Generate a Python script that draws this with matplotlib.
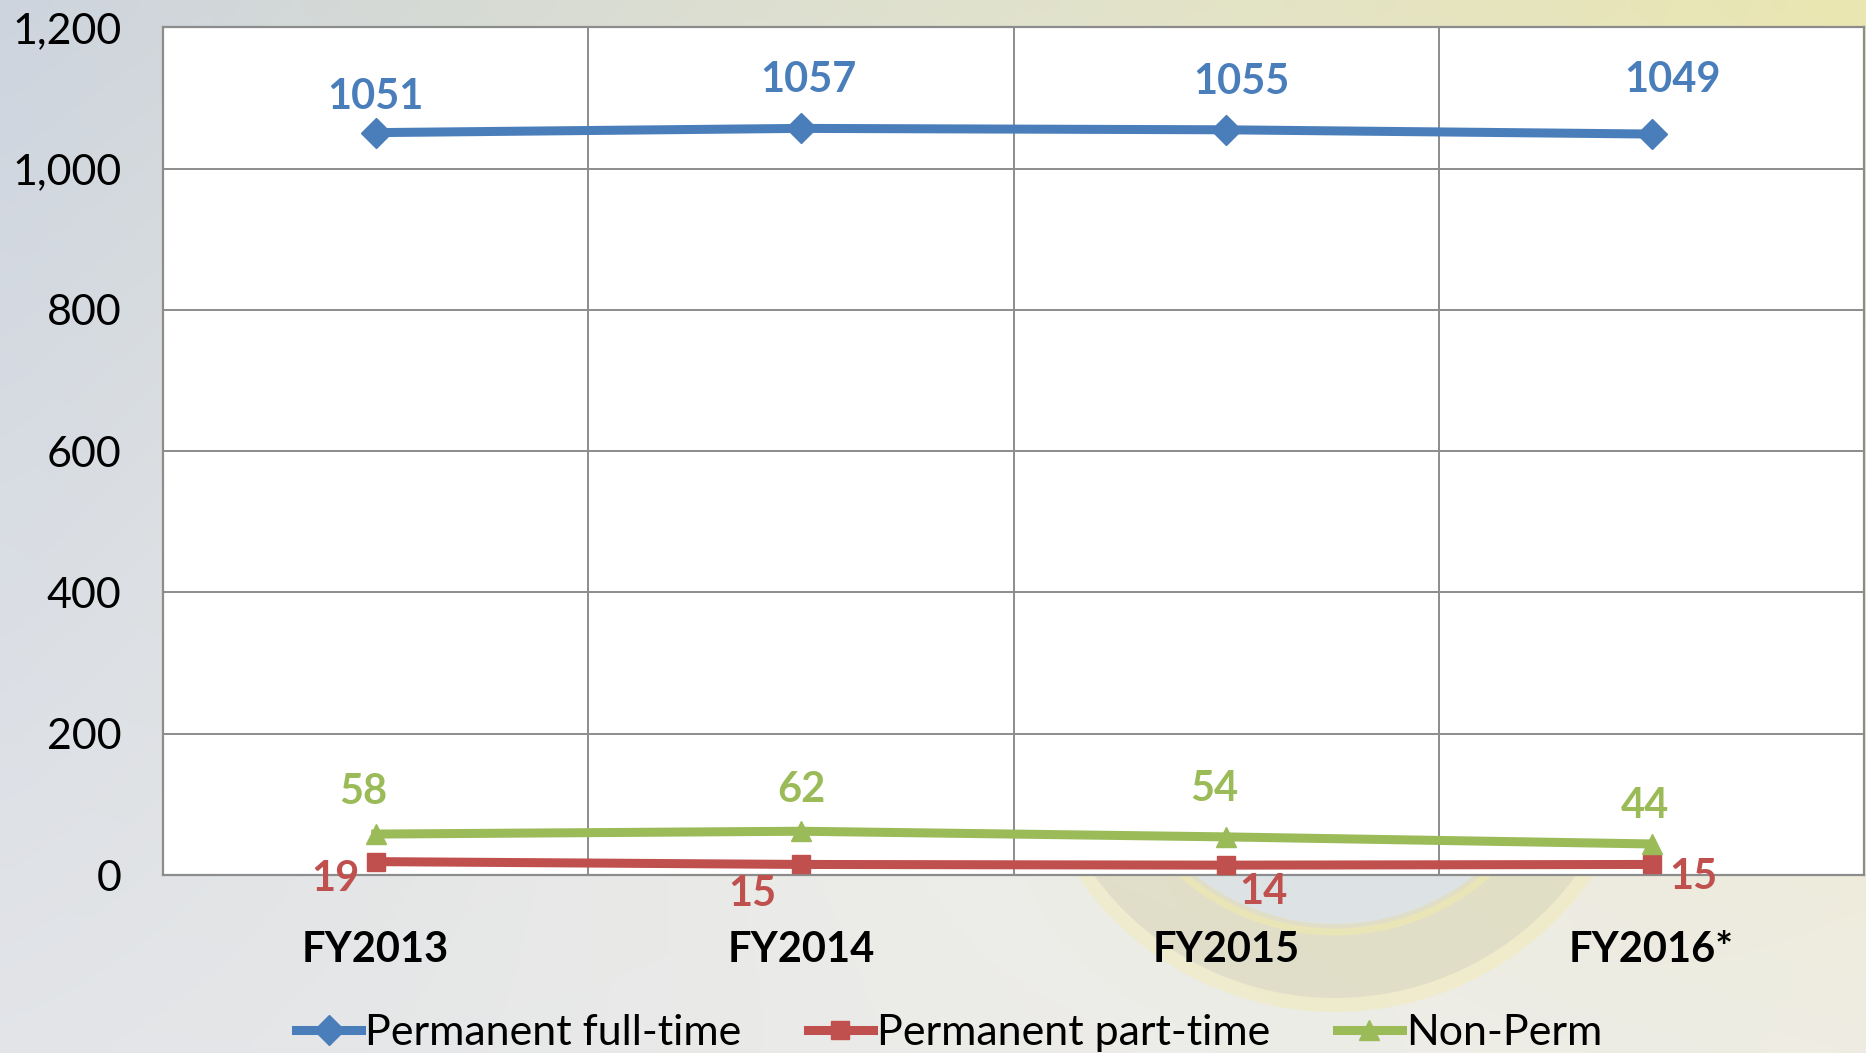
"""Workforce headcount by fiscal year: permanent full-time, part-time and non-perm."""
import matplotlib
matplotlib.use("Agg")
import matplotlib.pyplot as plt
import numpy as np
from matplotlib.lines import Line2D
from matplotlib.patches import Circle

# ---------------------------------------------------------------------
# Data
# ---------------------------------------------------------------------
YEARS = ["FY2013", "FY2014", "FY2015", "FY2016*"]
FULL_TIME = [1051, 1057, 1055, 1049]
PART_TIME = [19, 15, 14, 15]
NON_PERM = [58, 62, 54, 44]
Y_TICKS = [0, 200, 400, 600, 800, 1000, 1200]

SERIES = [
    ("Permanent full-time", FULL_TIME, "#4A7EBB", "D", 15),
    ("Permanent part-time", PART_TIME, "#C0504D", "s", 13),
    ("Non-Perm", NON_PERM, "#9BBB59", "^", 15),
]

# label offsets in pixels (dx, dy), copied from where the labels sit
LABEL_OFFSETS = {
    "Permanent full-time": [(0, 36), (7, 48), (15, 48), (21, 54)],
    "Permanent part-time": [(-40, -17), (-49, -30), (37, -27), (42, -13)],
    "Non-Perm": [(-12, 42), (0, 41), (-12, 48), (-7, 38)],
}

FONT = ["Lato", "DejaVu Sans"]
plt.rcParams["font.family"] = FONT

fig = plt.figure(figsize=(18.66, 10.53), dpi=100)

# soft slide-like background with a faint seal behind the plot
bg = fig.add_axes([0, 0, 1, 1], zorder=-10)
h, w = 60, 100
yy, xx = np.mgrid[0:1:h * 1j, 0:1:w * 1j]
tl = np.array([205, 212, 222]) / 255
tr = np.array([234, 230, 175]) / 255
bl = np.array([226, 228, 232]) / 255
br = np.array([238, 236, 226]) / 255
img = ((1 - xx)[..., None] * (1 - yy)[..., None] * tl
       + xx[..., None] * (1 - yy)[..., None] * tr
       + (1 - xx)[..., None] * yy[..., None] * bl
       + xx[..., None] * yy[..., None] * br)
glow = np.exp(-(((xx - 0.55) / 0.35) ** 2 + ((yy - 0.55) / 0.5) ** 2))[..., None]
img = img * (1 - 0.5 * glow) + 0.97 * 0.5 * glow
bg.imshow(img, aspect="auto", extent=[0, 1866, 1053, 0], interpolation="bicubic")
seal_c = (1335, 700)
bg.add_patch(Circle(seal_c, 312, color="#f3eaa0", alpha=0.35, lw=0))
bg.add_patch(Circle(seal_c, 298, color="#c8c8c0", alpha=0.35, lw=0))
bg.add_patch(Circle(seal_c, 232, fill=False, ec="#f2eca8", lw=5, alpha=0.5))
bg.add_patch(Circle(seal_c, 224, color="#dce6f0", alpha=0.75, lw=0))
bg.set_xlim(0, 1866)
bg.set_ylim(1053, 0)
bg.set_axis_off()

ax = fig.add_axes([0.0874, 0.169, 0.9116, 0.805])
ax.set_facecolor("white")
x = np.arange(len(YEARS))

for name, vals, color, marker, ms in SERIES:
    ax.plot(x, vals, color=color, lw=6.5, marker=marker, ms=ms,
            markeredgecolor=color, zorder=3, clip_on=False)
    for xi, v, (dx, dy) in zip(x, vals, LABEL_OFFSETS[name]):
        ax.annotate(str(v), (xi, v), xytext=(dx, dy), textcoords="offset pixels",
                    ha="center", va="center", fontsize=30, fontweight="bold",
                    color=color, zorder=4, annotation_clip=False)

ax.set_xlim(-0.5, len(YEARS) - 0.5)
ax.set_ylim(0, 1200)
ax.set_yticks(Y_TICKS)
ax.set_yticklabels([f"{t:,}" for t in Y_TICKS], fontsize=31)
ax.set_xticks(x)
ax.set_xticklabels(YEARS, fontsize=30, fontweight="bold")
ax.set_xticks(np.arange(-0.5, len(YEARS)), minor=True)
ax.tick_params(axis="both", which="both", length=0)
ax.tick_params(axis="y", pad=30)
ax.tick_params(axis="x", pad=40)
ax.grid(axis="y", which="major", color="#8c8c8c", lw=1.4)
ax.grid(axis="x", which="minor", color="#8c8c8c", lw=1.4)
ax.set_axisbelow(True)
for s in ax.spines.values():
    s.set_color("#8c8c8c")
    s.set_linewidth(1.6)

handles = [Line2D([], [], color=c, lw=6.5, marker=m, ms=ms, markeredgecolor=c)
           for _, _, c, m, ms in SERIES]
fig.legend(handles, [s[0] for s in SERIES], loc="center left",
           bbox_to_anchor=(0.138, 0.019), ncol=3, frameon=False,
           fontsize=31, handlelength=1.5, handletextpad=0.1, columnspacing=1.55)

fig.savefig("out.png", dpi=100)
